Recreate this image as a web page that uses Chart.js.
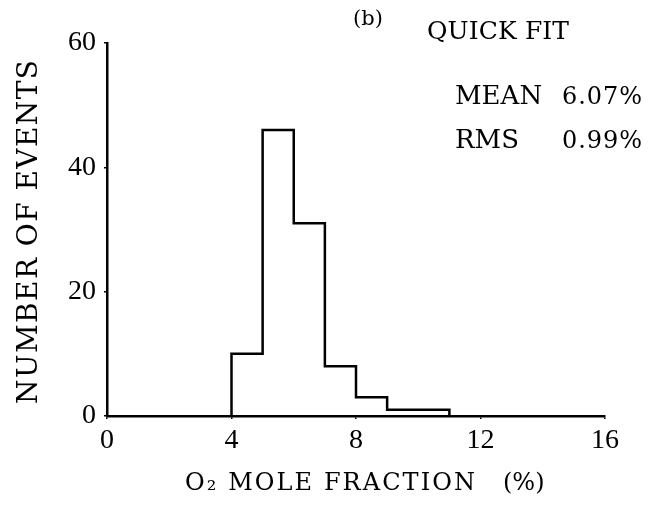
<!DOCTYPE html>
<html><head><meta charset="utf-8">
<script src="https://cdn.jsdelivr.net/npm/chart.js@4/dist/chart.umd.min.js"></script>
<style>html,body{margin:0;padding:0;background:#fff}#wrap{width:659px;height:512px;position:relative}</style>
</head><body><div id="wrap"><canvas id="c"></canvas></div>
<script>
// ---- data ----
const binEdges = [4, 5, 6, 7, 8, 9, 10, 11];
const counts = [10, 46, 31, 8, 3, 1, 1];
const xTicks = [0, 4, 8, 12, 16];
const yTicks = [0, 20, 40, 60];
const xTitleMain = 'O\u2082 MOLE FRACTION';
const xTitleUnit = '(%)';
const yTitle = 'NUMBER OF EVENTS';
const panelLabel = '(b)';
const fitTitle = 'QUICK FIT';
const statNames = ['MEAN', 'RMS'];
const statValues = ['6.07%', '0.99%'];

const FONT = '"DejaVu Serif", "Liberation Serif", serif';
const TICKFONT = '"Liberation Serif", "DejaVu Serif", serif';

// step outline ('before' stepping): bin i spans edges[i]..edges[i+1]
const stepPts = [{x: binEdges[0], y: 0}];
counts.forEach((c, i) => stepPts.push({x: binEdges[i], y: c}));
stepPts.push({x: binEdges[binEdges.length - 1], y: counts[counts.length - 1]});
stepPts.push({x: binEdges[binEdges.length - 1], y: 0});

function drawSpaced(ctx, text, left, baseline, width) {
  ctx.letterSpacing = '0px';
  const n = [...text].length;
  const w = ctx.measureText(text).width;
  const ls = n > 1 ? Math.max(0, (width - w) / (n - 1)) : 0;
  ctx.letterSpacing = ls + 'px';
  ctx.textAlign = 'left';
  ctx.fillText(text, left, baseline);
  ctx.letterSpacing = '0px';
}

const textPlugin = {
  id: 'texts',
  afterDraw(chart) {
    const ctx = chart.ctx;
    ctx.save();
    ctx.fillStyle = '#000';
    ctx.textBaseline = 'alphabetic';
    // y title
    ctx.save();
    ctx.font = '28px ' + FONT;
    ctx.translate(37, 404);
    ctx.rotate(-Math.PI / 2);
    drawSpaced(ctx, yTitle, 0, 0, 344);
    ctx.restore();
    // x title
    ctx.font = '24px ' + FONT;
    drawSpaced(ctx, xTitleMain, 185, 490, 290);
    drawSpaced(ctx, xTitleUnit, 503, 490, 38);
    // annotations
    ctx.font = '21px ' + FONT;
    drawSpaced(ctx, panelLabel, 353, 25, 30);
    ctx.font = '25px ' + FONT;
    drawSpaced(ctx, fitTitle, 427, 39, 142);
    ctx.font = '26px ' + FONT;
    drawSpaced(ctx, statNames[0], 455, 104, 84);
    drawSpaced(ctx, statNames[1], 455, 148, 62);
    ctx.font = '24px ' + FONT;
    drawSpaced(ctx, statValues[0], 562, 104, 80);
    drawSpaced(ctx, statValues[1], 562, 148, 80);
    ctx.restore();
  }
};

new Chart(document.getElementById('c'), {
  type: 'line',
  data: {
    datasets: [{
      data: stepPts,
      stepped: 'before',
      borderColor: '#000',
      borderWidth: 2.5,
      pointRadius: 0,
      fill: false,
      tension: 0
    }]
  },
  options: {
    responsive: true,
    maintainAspectRatio: false,
    animation: false,
    events: [],
    layout: {padding: {left: 0, top: 43, right: 54, bottom: 0}},
    plugins: {legend: {display: false}, tooltip: {enabled: false}, title: {display: false}},
    scales: {
      x: {
        type: 'linear', min: 0, max: 16,
        afterBuildTicks: s => { s.ticks = xTicks.map(v => ({value: v})); },
        afterFit: s => { s.height = 96; },
        grid: {drawOnChartArea: false, tickLength: 3, color: '#000', lineWidth: 1.5},
        border: {color: '#000', width: 2.5},
        ticks: {color: '#000', font: {family: TICKFONT, size: 28}, padding: 5, maxRotation: 0}
      },
      y: {
        type: 'linear', min: 0, max: 60,
        afterBuildTicks: s => { s.ticks = yTicks.map(v => ({value: v})); },
        afterFit: s => { s.width = 107; },
        grid: {drawOnChartArea: false, tickLength: 3, color: '#000', lineWidth: 1.5},
        border: {color: '#000', width: 2.5},
        ticks: {color: '#000', font: {family: TICKFONT, size: 28}, padding: 8}
      }
    }
  },
  plugins: [textPlugin]
});
</script></body></html>
